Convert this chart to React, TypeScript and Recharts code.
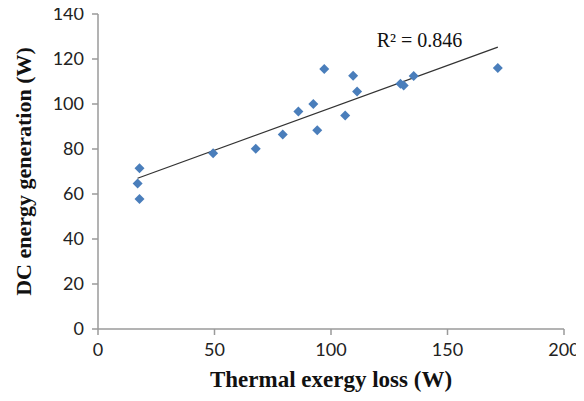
import { ReferenceDot, ReferenceLine, Scatter, ScatterChart, XAxis, YAxis } from "recharts";

const lossW = [17.8, 17.0, 17.8, 49.4, 67.7, 79.3, 86.0, 92.4, 94.1, 97.1, 106.1, 109.5, 111.2, 129.8, 131.2, 135.5, 171.6];
const dcW = [71.4, 64.7, 57.8, 78.1, 80.1, 86.4, 96.7, 100.0, 88.3, 115.6, 94.9, 112.6, 105.6, 109.0, 108.2, 112.4, 116.0];
const xTicks = [0, 50, 100, 150, 200];
const yTicks = [0, 20, 40, 60, 80, 100, 120, 140];
const slope = 0.377;
const intercept = 60.6;
const r2Label = "R² = 0.846";

const points = lossW.map((x, i) => ({ x, y: dcW[i] }));
const xMin = Math.min(...lossW);
const xMax = Math.max(...lossW);
const trend = [
  { x: xMin, y: slope * xMin + intercept },
  { x: xMax, y: slope * xMax + intercept },
];

const axisLine = { stroke: "#9a9a9a", strokeWidth: 1.5 };
const tickStyle = { fill: "#222", fontSize: 18, fontFamily: "Lato, sans-serif" };
const titleStyle = { fill: "#111", fontSize: 22, fontWeight: 700, fontFamily: "'Liberation Serif', serif" };

// square diamond, ~10px across
const Diamond = (p: any) => {
  const { cx, cy } = p;
  const r = 5;
  return <polygon points={`${cx},${cy - r} ${cx + r},${cy} ${cx},${cy + r} ${cx - r},${cy}`} fill="#4a7ebb" />;
};

export default function App() {
  return (
    <div style={{ margin: -8, width: 584, height: 401, background: "#fff" }}>
      <ScatterChart width={584} height={401} margin={{ top: 14, right: 20, bottom: 42, left: 38 }}>
        <XAxis
          type="number"
          dataKey="x"
          domain={[0, 200]}
          ticks={xTicks}
          axisLine={axisLine}
          tickLine={axisLine}
          tickSize={6}
          tickMargin={8}
          tick={tickStyle}
          height={30}
          label={{ value: "Thermal exergy loss (W)", position: "bottom", offset: 12, style: { ...titleStyle, fontSize: 23 } }}
        />
        <YAxis
          type="number"
          dataKey="y"
          domain={[0, 140]}
          ticks={yTicks}
          axisLine={axisLine}
          tickLine={axisLine}
          tickSize={6}
          tickMargin={8}
          tick={tickStyle}
          width={60}
          label={{ value: "DC energy generation (W)", angle: -90, position: "insideLeft", offset: -15, style: { ...titleStyle, textAnchor: "middle" } }}
        />
        <ReferenceLine segment={trend} stroke="#333" strokeWidth={1.2} ifOverflow="visible" />
        <Scatter data={points} shape={Diamond} isAnimationActive={false} />
        <ReferenceDot
          x={138}
          y={128.4}
          r={0}
          ifOverflow="visible"
          label={{ value: r2Label, position: "center", style: { fill: "#111", fontSize: 20, fontFamily: "'Liberation Serif', serif" } }}
        />
      </ScatterChart>
    </div>
  );
}
